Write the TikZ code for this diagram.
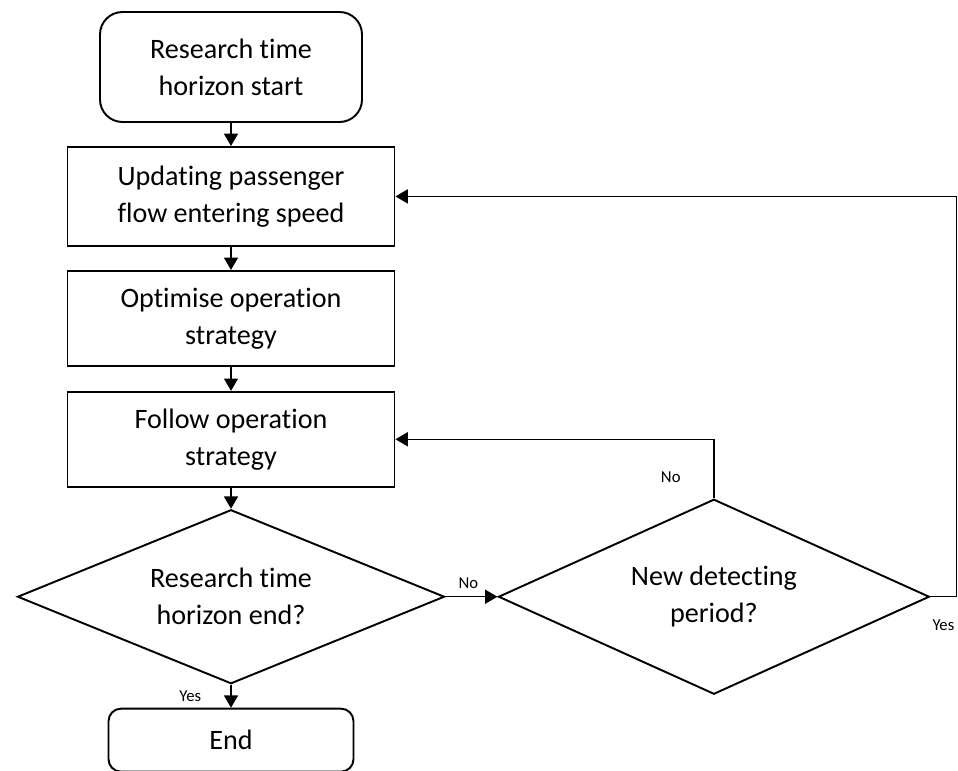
\documentclass[tikz,border=0pt]{standalone}
\usepackage{fontspec}
\setmainfont{Carlito}[Ligatures=NoCommon]
\usepackage{tikz}
\usetikzlibrary{positioning, arrows.meta, shapes.geometric}

\begin{document}
\begin{tikzpicture}[
    node distance=0.46cm,
    block/.style={rectangle, draw, line width=1.1pt, minimum width=6.54cm, minimum height=1.9cm, align=center, font=\fontsize{16}{21}\selectfont},
    term/.style={block, rounded corners=0.45cm},
    decision/.style={diamond, draw, line width=1.1pt, inner sep=0pt, aspect=2.45, align=center, font=\fontsize{16}{21}\selectfont},
    lbl/.style={font=\fontsize{9.5}{11}\selectfont, inner sep=1pt},
    arrow/.style={-{Triangle[width=8pt,length=7pt]}, line width=0.7pt},
    link/.style={line width=0.7pt}
]
\useasboundingbox (0,0) rectangle (19.16,-15.42);

% Nodes disposés verticalement
\node[term, minimum width=5.24cm, minimum height=2.2cm] (start) at (4.62,-1.34) {Research time\\horizon start};
\node[block, minimum height=1.98cm, below=of start] (update) {Updating passenger\\flow entering speed};
\node[block, below=of update] (optimise) {Optimise operation\\strategy};
\node[block, below=0.48cm of optimise] (follow) {Follow operation\\strategy};
\node[decision, minimum width=8.54cm, minimum height=3.48cm, below=0.42cm of follow] (endq) {Research time\\horizon end?};
\node[term, rounded corners=0.25cm, minimum width=4.9cm, minimum height=1.26cm, below=0.46cm of endq] (stop) {End};
\node[decision, minimum width=8.62cm, minimum height=3.9cm, right=1.04cm of endq] (period) {New detecting\\period?};
\coordinate[right=0.52cm of period.east] (back);

% Arrows
\draw[arrow] (start) -- (update);
\draw[arrow] (update) -- (optimise);
\draw[arrow] (optimise) -- (follow);
\draw[arrow] (follow) -- (endq);
\draw[arrow] (endq) -- node[lbl, left=0.55cm] (yes1) {Yes} (stop);
\draw[arrow] (endq) -- node[lbl, above=3pt, pos=0.44] (no1) {No} (period);
\draw[arrow] (period.north) -- ++(0,1.14) node[lbl, pos=0.37, left=0.62cm] (no2) {No} |- (follow.east);
\draw[link] (period.east) -- node[lbl, below=0.42cm] (yes2) {Yes} (back);
\draw[arrow] (back) |- (update.east);

\end{tikzpicture}
\end{document}
